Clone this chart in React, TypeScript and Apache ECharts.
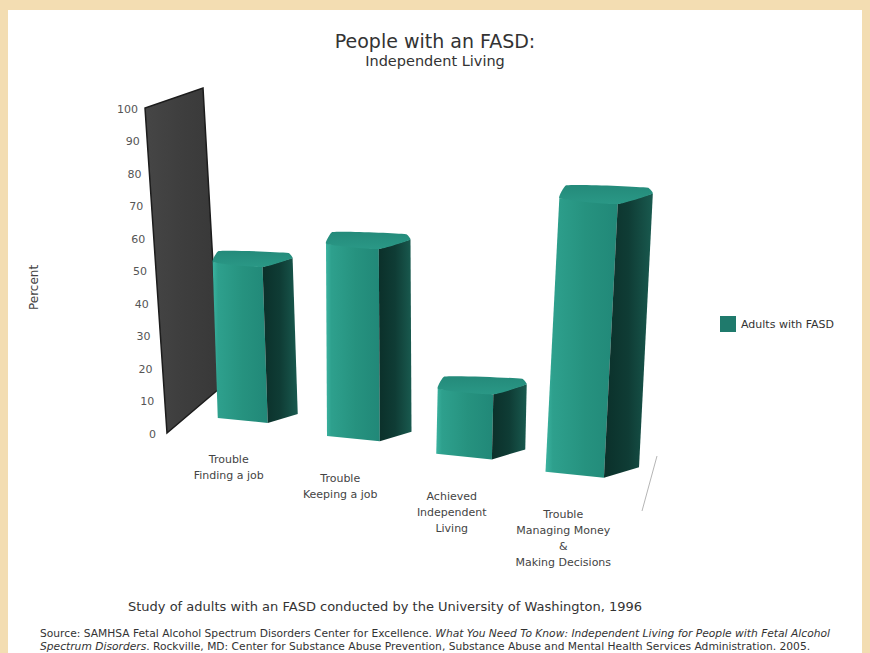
import React, { useEffect, useRef } from 'react';
import * as echarts from 'echarts';

// ---- data ----
const CATEGORIES = [
  'Trouble\nFinding a job',
  'Trouble\nKeeping a job',
  'Achieved\nIndependent\nLiving',
  'Trouble\nManaging Money\n&\nMaking Decisions',
];
const VALUES = [48, 56, 18, 72];
const Y_TICKS = [0, 10, 20, 30, 40, 50, 60, 70, 80, 90, 100];
const SERIES_NAME = 'Adults with FASD';

// ---- pseudo-3D view constants (styling only) ----
const FONT = 'DejaVu Sans, Verdana, sans-serif';
const FLOOR_X0 = 258;
const FLOOR_DY = -11;
const FLOOR_SLOPE = 0.163;
const PERSP_K = 0.17 / 336;
const LEAN_CX = 390;
const LEAN_K = 0.00025;
const FRONT_W = 50;
const SIDE_W = 30;
const WALL_X = 167;
const WALL_LEAN = -22;

const lg = (stops: [number, string][], vertical = false) =>
  new echarts.graphic.LinearGradient(0, 0, vertical ? 0 : 1, vertical ? 1 : 0,
    stops.map(([offset, color]) => ({ offset, color })));

function renderWall(_params: any, api: any) {
  const y0 = api.coord([0, 0])[1];
  const y100 = api.coord([0, 100])[1];
  const fb = [WALL_X, y0];
  const ft = [WALL_X + WALL_LEAN, y100];
  const bb = [fb[0] + 53, fb[1] - 45];
  const bt = [ft[0] + 58, ft[1] - 20];
  return {
    type: 'polygon',
    shape: { points: [fb, ft, bt, bb] },
    style: {
      fill: lg([[0, '#464646'], [0.5, '#3e3e3e'], [1, '#383838']]),
      stroke: '#1c1c1c',
      lineWidth: 1.5,
    },
  };
}

function renderTick(_params: any, api: any) {
  const v = api.value(1);
  const y0 = api.coord([0, 0])[1];
  const y100 = api.coord([0, 100])[1];
  const y = api.coord([0, v])[1];
  const x = WALL_X + WALL_LEAN * 0.82 * (y0 - y) / (y0 - y100) - 11;
  return {
    type: 'text',
    style: {
      text: String(v),
      x,
      y: y + 1,
      align: 'right',
      verticalAlign: 'middle',
      fontSize: 11,
      fontFamily: FONT,
      fill: '#555',
    },
  };
}

function renderBar(_params: any, api: any) {
  const i = api.value(0);
  const v = api.value(1);
  const base = api.coord([i, 0]);
  const top = api.coord([i, v]);
  const cx = base[0];
  const s = 1 + (cx - FLOOR_X0) * PERSP_K;
  const yB = base[1] + FLOOR_DY + (cx - FLOOR_X0) * FLOOR_SLOPE;
  const h = (base[1] - top[1]) * s;
  const yT = yB - h;
  const lean = (cx - LEAN_CX) * LEAN_K * h;
  const fw = FRONT_W * s;
  const sw = SIDE_W * s;
  const xL = cx - (fw + sw) / 2;

  const FL = [xL, yB - 4 * s];
  const FR = [xL + fw, yB + 1 * s];
  const BR = [xL + fw + sw, yB - 8 * s];
  const tFL = [xL + lean, yT - 4 * s];
  const tFR = [xL + fw + lean, yT + 1 * s];
  const tBR = [xL + fw + sw + lean, yT - 8 * s];
  const tBK = [xL + fw + sw + lean - 4 * s, yT - 13 * s];
  const tBL = [xL + lean + 6 * s, yT - 15 * s];

  return {
    type: 'group',
    children: [
      {
        type: 'polygon',
        shape: { points: [FL, FR, tFR, tFL] },
        style: {
          fill: lg([[0, '#3bb3a0'], [0.1, '#2ea08d'], [0.55, '#26927f'], [1, '#218878']]),
        },
      },
      {
        type: 'polygon',
        shape: { points: [FR, BR, tBR, tFR] },
        style: {
          fill: lg([[0, '#0b302a'], [0.5, '#0f3c35'], [1, '#195a4f']]),
        },
      },
      {
        type: 'polygon',
        shape: { points: [tFL, tFR, tBR, tBK, tBL], smooth: 0.15 },
        style: {
          fill: lg([[0, '#248a7a'], [1, '#2a9886']], true),
        },
      },
      {
        type: 'text',
        style: {
          text: CATEGORIES[i],
          x: cx - 29,
          y: yB + 30,
          align: 'center',
          verticalAlign: 'top',
          fontSize: 11,
          lineHeight: 16,
          fontFamily: FONT,
          fill: '#444',
        },
      },
    ],
  };
}

const option: any = {
  animation: false,
  backgroundColor: '#f3ddb2',
  grid: { left: 202, width: 446, top: 108, height: 325 },
  xAxis: { type: 'category', data: CATEGORIES, show: false },
  yAxis: { type: 'value', min: 0, max: 100, interval: 10, show: false },
  legend: {
    left: 715,
    top: 311,
    itemWidth: 16,
    itemHeight: 16,
    data: [{ name: SERIES_NAME, icon: 'rect' }],
    textStyle: { fontSize: 11, fontFamily: FONT, color: '#333' },
    selectedMode: false,
  },
  graphic: [
    { type: 'rect', z: -10, shape: { x: 8, y: 10, width: 854, height: 650 }, style: { fill: '#ffffff' } },
    {
      type: 'text', left: 'center', top: 31,
      style: { text: 'People with an FASD:', fontSize: 19, fontFamily: FONT, fill: '#333' },
    },
    {
      type: 'text', left: 'center', top: 53,
      style: { text: 'Independent Living', fontSize: 14.5, fontFamily: FONT, fill: '#333' },
    },
    {
      type: 'text', x: 28, y: 310, rotation: Math.PI / 2,
      style: { text: 'Percent', fontSize: 12, fontFamily: FONT, fill: '#444' },
    },
    {
      type: 'line',
      shape: { x1: 657, y1: 456, x2: 642, y2: 511 },
      style: { stroke: '#b5b5b5', lineWidth: 1 },
    },
    {
      type: 'text', x: 128, y: 600,
      style: {
        text: 'Study of adults with an FASD conducted by the University of Washington, 1996',
        fontSize: 13, fontFamily: FONT, fill: '#333',
      },
    },
    {
      type: 'text', x: 40, y: 627,
      style: {
        text:
          '{n|Source: SAMHSA Fetal Alcohol Spectrum Disorders Center for Excellence. }{i|What You Need To Know: Independent Living for People with Fetal Alcohol}\n' +
          '{i|Spectrum Disorders}{n|. Rockville, MD: Center for Substance Abuse Prevention, Substance Abuse and Mental Health Services Administration. 2005.}',
        fontSize: 10.7,
        fontFamily: FONT,
        fill: '#333',
        lineHeight: 13,
        rich: {
          n: { fontSize: 10.7, fontFamily: FONT, fill: '#333', lineHeight: 13 },
          i: { fontSize: 10.7, fontFamily: FONT, fontStyle: 'italic', fill: '#333', lineHeight: 13 },
        },
      },
    },
  ],
  series: [
    {
      type: 'custom',
      name: 'wall',
      data: [[0, 100]],
      renderItem: renderWall,
      silent: true,
      z: 1,
    },
    {
      type: 'custom',
      name: 'ticks',
      data: Y_TICKS.map((v) => [0, v]),
      renderItem: renderTick,
      silent: true,
      z: 2,
    },
    {
      type: 'custom',
      name: SERIES_NAME,
      data: VALUES.map((v, i) => [i, v]),
      renderItem: renderBar,
      itemStyle: { color: '#1f7a6c' },
      z: 3,
    },
  ],
};

export default function App() {
  const ref = useRef<HTMLDivElement>(null);
  useEffect(() => {
    const chart = echarts.init(ref.current as HTMLDivElement, null, { renderer: 'svg' });
    chart.setOption(option);
    return () => chart.dispose();
  }, []);
  return (
    <div
      ref={ref}
      style={{ position: 'fixed', left: 0, top: 0, width: 870, height: 653 }}
    />
  );
}
